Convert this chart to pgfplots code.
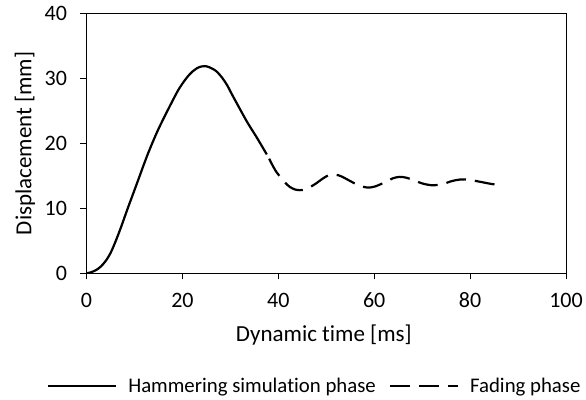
\documentclass[border=0pt]{standalone}
\usepackage{pgfplots}
\pgfplotsset{compat=1.18}
\usepackage{fontspec}
\setmainfont{Carlito}[Ligatures={NoCommon}]
\begin{document}
\begin{tikzpicture}
\path[use as bounding box] (-86.5bp,-126.7bp) rectangle (499.5bp,273.3bp);
\begin{axis}[
  at={(0,0)}, anchor=south west,
  scale only axis, width=479.5bp, height=259.8bp,
  xmin=0, xmax=100, ymin=0, ymax=40,
  xtick={0,20,40,60,80,100}, ytick={0,10,20,30,40},
  tick align=outside, tick pos=left,
  major tick length=6bp,
  tick style={black, line width=1bp},
  axis line style={black, line width=1bp},
  /pgf/number format/assume math mode=true,
  ticklabel style={font=\fontsize{22bp}{26bp}\selectfont},
  xticklabel style={yshift=-10bp},
  yticklabel style={xshift=-10bp},
  label style={font=\fontsize{23bp}{27bp}\selectfont},
  xlabel={Dynamic time [ms]},
  ylabel={Displacement [mm]},
  xlabel style={at={(axis description cs:0.495,-0.2625)}, anchor=base},
  ylabel style={at={(axis description cs:-0.1283,0.5)}, anchor=center},
  legend columns=2,
  legend style={at={(axis description cs:-0.0825,-0.4326)}, anchor=west, draw=none, fill=none,
    inner sep=0pt, font=\fontsize{20.8bp}{25bp}\selectfont,
    /tikz/every odd column/.append style={column sep=9bp},
    /tikz/every even column/.append style={column sep=11bp}},
  legend image code/.code={\draw[#1] (0bp,0bp) -- (68bp,0bp);},
]
\addplot[black, line width=2.2bp, smooth] coordinates {
(0,0) (0.9,0.15) (2,0.5) (3,1.05) (4,1.9) (5,3.1) (6,4.8) (7.1,6.9) (8.5,9.8) (9.5,11.8) (10.6,14.0)
(12.7,18.2) (14.75,21.8) (16.8,24.9) (18.9,27.9) (20,29.2) (21,30.2) (22,31.0) (23.1,31.6) (24,31.85)
(24.8,31.9) (25.7,31.7) (26.5,31.4) (27.25,31.0) (28.3,30.1) (29.3,29.0) (30.3,27.6) (31.4,26.1)
(33.5,23.3) (35.6,20.8) (37.6,18.3)
};
\addlegendentry{Hammering simulation phase}
\addplot[black, line width=2.2bp, smooth, dash pattern=on 20bp off 9bp] coordinates {
(38.1,17.65) (38.6,16.9) (39.6,15.6) (40.7,14.6) (41.5,13.9) (42.4,13.3) (43.5,12.9) (44.5,12.8)
(45.5,12.9) (46.7,13.3) (48.0,13.9) (49.3,14.6) (50.5,15.1) (51.5,15.2) (52.5,15.1) (53.5,14.8)
(55,14.2) (56.6,13.6) (57.8,13.3) (59.0,13.2) (60.3,13.4) (62.2,14.0) (63.8,14.6) (65.3,14.85)
(66.8,14.7) (68.3,14.3) (70.2,13.8) (72.2,13.55) (74.3,13.75) (76.2,14.2) (78.0,14.45) (79.8,14.4)
(82.7,14.0) (84.5,13.75) (86.1,13.6)
};
\addlegendentry{Fading phase}
\end{axis}
\end{tikzpicture}
\end{document}
